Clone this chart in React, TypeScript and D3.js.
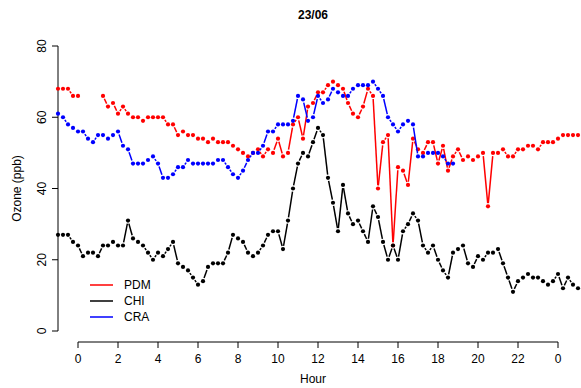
import * as d3 from "d3";

// 15-minute readings from 23:00 the day before (hour -1) to 01:00 the day after (hour 25)
const pdm: (number | null)[] = [
  68, 68, 68, 66, 66, null, null, null, null, 66, 63, 64, 61, 63, 61, 60, 60, 59, 60, 60,
  60, 60, 58, 58, 55, 56, 55, 55, 54, 54, 53, 54, 53, 53, 53, 52, 51, 50, 49, 50,
  51, 49, 51, 50, 54, 49, 50, 58, 60, 54, 63, 64, 67, 67, 69, 70, 69, 68, 64, 61,
  60, 63, 68, 66, 40, 53, 55, 24, 46, 45, 41, 54, 51, 50, 53, 53, 47, 52, 45, 49,
  51, 48, 49, 48, 49, 50, 35, 50, 50, 51, 49, 49, 51, 51, 52, 52, 51, 53, 53, 53,
  54, 55, 55, 55, 55,
];
const chi: (number | null)[] = [
  27, 27, 27, 25, 24, 21, 22, 22, 21, 24, 24, 25, 24, 24, 31, 26, 25, 24, 22, 20,
  22, 21, 23, 25, 19, 18, 17, 15, 13, 14, 18, 19, 19, 19, 22, 27, 26, 25, 22, 21,
  22, 24, 27, 28, 28, 23, 31, 40, 47, 50, 49, 53, 57, 55, 43, 36, 28, 41, 33, 30,
  31, 28, 25, 35, 32, 25, 20, 24, 20, 28, 30, 33, 31, 24, 22, 24, 20, 17, 15, 22,
  23, 24, 19, 18, 21, 20, 22, 22, 23, 19, 15, 11, 14, 15, 16, 15, 15, 14, 13, 14,
  16, 12, 15, 13, 12,
];
const cra: (number | null)[] = [
  61, 60, 58, 57, 56, 56, 54, 53, 55, 55, 54, 55, 56, 52, 51, 47, 47, 47, 48, 49,
  47, 43, 43, 44, 46, 46, 48, 47, 47, 47, 47, 47, 48, 48, 46, 44, 43, 45, 48, 50,
  50, 52, 56, 56, 58, 58, 58, 59, 66, 65, 59, 60, 66, 64, 65, 68, 67, 66, 66, 68,
  69, 69, 69, 70, 68, 66, 60, 58, 56, 58, 59, 58, 49, 49, 50, 50, 50, 49, 47, 47,
];

const seriesNames = ["PDM", "CHI", "CRA"];
const seriesColors = ["#ff0000", "#000000", "#0000ff"];
const xTicks = [0, 2, 4, 6, 8, 10, 12, 14, 16, 18, 20, 22, 24];
const yTicks = [0, 20, 40, 60, 80];

const W = 581;
const H = 388;

const x = d3.scaleLinear().domain([-1, 25]).range([58, 578]);
const y = d3.scaleLinear().domain([0, 80]).range([331, 46]);

const hourOf = (i: number) => i / 4 - 1;

// R's type = "b": segments stop short of the points
function gapSegments(values: (number | null)[], gap = 3.2) {
  const out: [number, number, number, number][] = [];
  for (let i = 1; i < values.length; i++) {
    const a = values[i - 1];
    const b = values[i];
    if (a == null || b == null) continue;
    const x1 = x(hourOf(i - 1)), y1 = y(a);
    const x2 = x(hourOf(i)), y2 = y(b);
    const len = Math.hypot(x2 - x1, y2 - y1);
    if (len <= 2 * gap) continue;
    const ux = (x2 - x1) / len, uy = (y2 - y1) / len;
    out.push([x1 + ux * gap, y1 + uy * gap, x2 - ux * gap, y2 - uy * gap]);
  }
  return out;
}

function Series({ values, color }: { values: (number | null)[]; color: string }) {
  return (
    <g>
      {gapSegments(values).map((s, k) => (
        <line key={k} x1={s[0]} y1={s[1]} x2={s[2]} y2={s[3]} stroke={color} strokeWidth={1.5} />
      ))}
      {values.map((v, i) =>
        v == null ? null : <circle key={i} cx={x(hourOf(i))} cy={y(v)} r={2.1} fill={color} />
      )}
    </g>
  );
}

export default function App() {
  const all = [pdm, chi, cra];
  const axisY = 342;
  const font = "Liberation Sans, Arial, sans-serif";
  return (
    <svg
      width={W}
      height={H}
      style={{ position: "absolute", left: 0, top: 0, background: "#fff" }}
      fontFamily={font}
    >
      <text x={313} y={19} textAnchor="middle" fontWeight="bold" fontSize={12}>
        23/06
      </text>

      {/* y axis */}
      <line x1={58} x2={58} y1={y(0)} y2={y(80)} stroke="#000" />
      {yTicks.map((t) => (
        <g key={t}>
          <line x1={52} x2={58} y1={y(t)} y2={y(t)} stroke="#000" />
          <text
            transform={`translate(46,${y(t)}) rotate(-90)`}
            textAnchor="middle"
            fontSize={12}
          >
            {t}
          </text>
        </g>
      ))}
      <text transform={`translate(21,${y(40)}) rotate(-90)`} textAnchor="middle" fontSize={12}>
        Ozone (ppb)
      </text>

      {/* x axis */}
      <line x1={x(0)} x2={x(24)} y1={axisY} y2={axisY} stroke="#000" />
      {xTicks.map((t, i) => (
        <g key={i}>
          <line x1={x(t)} x2={x(t)} y1={axisY} y2={axisY + 6} stroke="#000" />
          <text x={x(t)} y={axisY + 21} textAnchor="middle" fontSize={12}>
            {t % 24}
          </text>
        </g>
      ))}
      <text x={313} y={383} textAnchor="middle" fontSize={12}>
        Hour
      </text>

      {all.map((vals, k) => (
        <Series key={k} values={vals} color={seriesColors[k]} />
      ))}

      {/* legend */}
      {seriesNames.map((name, k) => (
        <g key={name}>
          <line x1={90} x2={113} y1={285 + k * 16} y2={285 + k * 16} stroke={seriesColors[k]} strokeWidth={1.5} />
          <text x={124} y={289 + k * 16} fontSize={12}>
            {name}
          </text>
        </g>
      ))}
    </svg>
  );
}
